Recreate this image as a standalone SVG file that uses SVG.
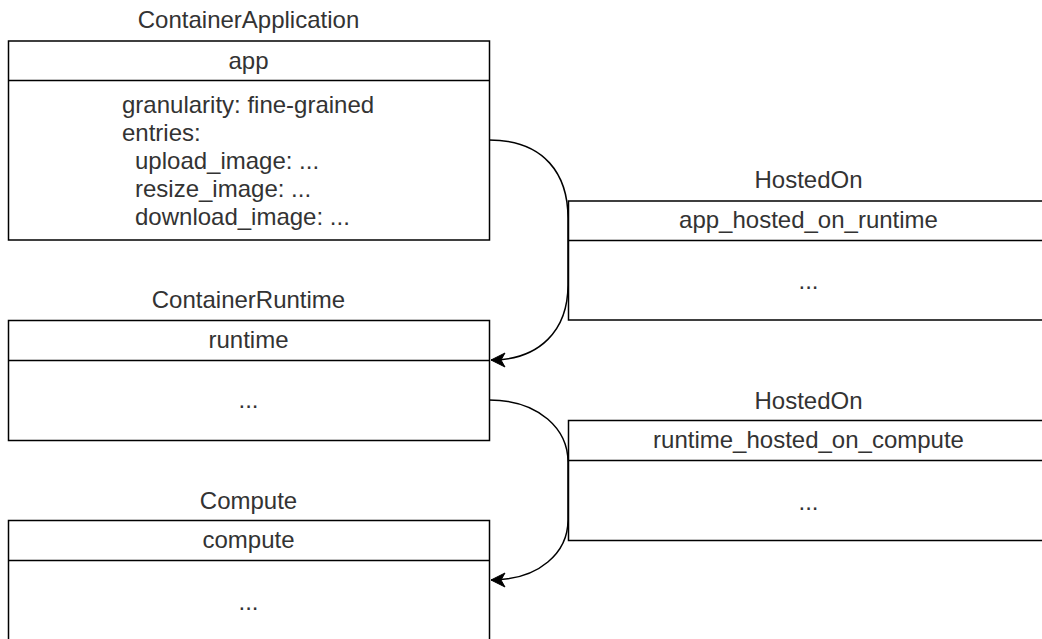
<svg xmlns="http://www.w3.org/2000/svg" width="1042" height="639" viewBox="0 0 1042 639">
<style>
.box{fill:#fff;stroke:#000;stroke-width:1.5}
.sep{stroke:#000;stroke-width:1.5}
text{font-family:"Liberation Sans",Arial,Helvetica,sans-serif;font-size:24px;fill:#333}
.c{text-anchor:middle}
.edge{fill:none;stroke:#000;stroke-width:1.5}
</style>
<defs>
<marker id="arr" markerUnits="userSpaceOnUse" markerWidth="16" markerHeight="16" viewBox="-1 -8 16 16" refX="14" refY="0" orient="auto">
<path d="M0,-7 L14,0 L0,7 L4,0 Z" fill="#000" stroke="#000" stroke-width="1"/>
</marker>
</defs>
<rect width="1042" height="639" fill="#fff"/>
<g id="connectors">
<path class="edge" d="M489,140 C545,140 568,175 568,218 L568,285 C568,330 540,360 491,360" marker-end="url(#arr)"/>
<path class="edge" d="M489,400 C540,400 568,430 568,462 L568,520 C568,552 540,580 491,580" marker-end="url(#arr)"/>
</g>
<g id="app">
<text class="c" x="248.5" y="28">ContainerApplication</text>
<rect class="box" x="8.5" y="41" width="481" height="199"/>
<line class="sep" x1="8.5" y1="80.5" x2="489.5" y2="80.5"/>
<text class="c" x="248.5" y="69">app</text>
<text x="122" y="113">granularity: fine-grained</text>
<text x="122" y="141">entries:</text>
<text x="135" y="169">upload_image: ...</text>
<text x="135" y="197">resize_image: ...</text>
<text x="135" y="225">download_image: ...</text>
</g>
<g id="runtime">
<text class="c" x="248.5" y="308">ContainerRuntime</text>
<rect class="box" x="8.5" y="320.5" width="481" height="120"/>
<line class="sep" x1="8.5" y1="360.5" x2="489.5" y2="360.5"/>
<text class="c" x="248.5" y="348">runtime</text>
<text class="c" x="248.5" y="408">...</text>
</g>
<g id="compute">
<text class="c" x="248.5" y="509">Compute</text>
<rect class="box" x="8.5" y="520.5" width="481" height="130"/>
<line class="sep" x1="8.5" y1="560.5" x2="489.5" y2="560.5"/>
<text class="c" x="248.5" y="548">compute</text>
<text class="c" x="248.5" y="610">...</text>
</g>
<g id="app_hosted_on_runtime">
<text class="c" x="808.5" y="188">HostedOn</text>
<rect class="box" x="568.5" y="201" width="481" height="119"/>
<line class="sep" x1="568.5" y1="240.5" x2="1049.5" y2="240.5"/>
<text class="c" x="808.5" y="228">app_hosted_on_runtime</text>
<text class="c" x="808.5" y="289">...</text>
</g>
<g id="runtime_hosted_on_compute">
<text class="c" x="808.5" y="409">HostedOn</text>
<rect class="box" x="568.5" y="420.5" width="481" height="120"/>
<line class="sep" x1="568.5" y1="460.5" x2="1049.5" y2="460.5"/>
<text class="c" x="808.5" y="448">runtime_hosted_on_compute</text>
<text class="c" x="808.5" y="510">...</text>
</g>
</svg>
